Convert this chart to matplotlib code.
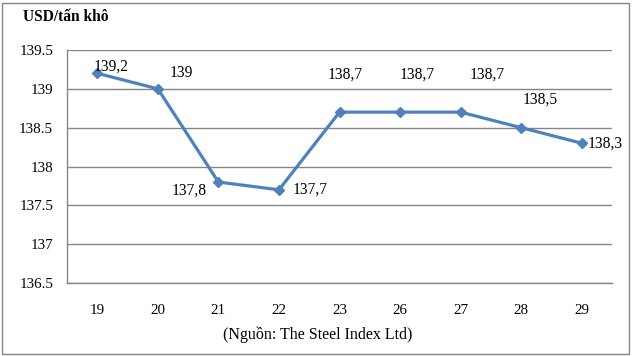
import matplotlib.pyplot as plt
from matplotlib.patches import Rectangle

days = ['19', '20', '21', '22', '23', '26', '27', '28', '29']
prices = [139.2, 139.0, 137.8, 137.7, 138.7, 138.7, 138.7, 138.5, 138.3]
price_labels = ['139,2', '139', '137,8', '137,7', '138,7', '138,7', '138,7', '138,5', '138,3']

# label offsets in points (dx, dy, ha)
label_pos = [(-3, 4.5, 'left'), (17, 11.5, 'center'), (-21, -6, 'center'), (10, 0, 'left'),
             (4, 27, 'center'), (12, 27, 'center'), (19, 27, 'center'), (14, 20, 'center'),
             (4, 0, 'left')]

plt.rcParams['font.family'] = ['Liberation Serif', 'DejaVu Serif']
grey = '#868686'

fig = plt.figure(figsize=(6.32, 3.56), dpi=100)
ax = fig.add_axes([67 / 632, 1 - 283 / 356, 545 / 632, 233 / 356])

x = list(range(len(days)))
ax.plot(x, prices, color='#4F81BD', lw=2.3, marker='D', ms=5.5, zorder=3)
for xi, yi, lab, (dx, dy, ha) in zip(x, prices, price_labels, label_pos):
    ax.annotate(lab, (xi, yi), xytext=(dx, dy), textcoords='offset points',
                ha=ha, va='center', fontsize=11.2)

ax.set_xlim(-0.5, len(days) - 0.5)
ax.set_ylim(136.5, 139.5)
ax.set_yticks([136.5, 137, 137.5, 138, 138.5, 139, 139.5])
ax.set_yticklabels(['136.5', '137', '137.5', '138', '138.5', '139', '139.5'])
ax.set_xticks(x)
ax.set_xticklabels(days)
ax.tick_params(length=0, labelsize=10.8, colors='black')
ax.tick_params(axis='y', pad=10)
ax.tick_params(axis='x', pad=15)
ax.yaxis.grid(True, color=grey, lw=1)
ax.set_axisbelow(True)
for s in ['top', 'right']:
    ax.spines[s].set_visible(False)
for s in ['left', 'bottom']:
    ax.spines[s].set_color(grey)
    ax.spines[s].set_linewidth(1)

ax.set_xlabel('(Nguồn: The Steel Index Ltd)', fontsize=11.5, labelpad=10)
ax.xaxis.set_label_coords(318 / 632, 1 - 335 / 356, transform=fig.transFigure)
ax.xaxis.label.set_va('center')
fig.text(23 / 632, 1 - 17 / 356, 'USD/tấn khô', fontsize=11.2, fontweight='bold',
         va='center', ha='left')

fig.patches.append(Rectangle((2 / 632, 2 / 356), 627 / 632, 351 / 356, transform=fig.transFigure,
                             fill=False, edgecolor=grey, lw=1))

fig.savefig('out.png', dpi=100)
